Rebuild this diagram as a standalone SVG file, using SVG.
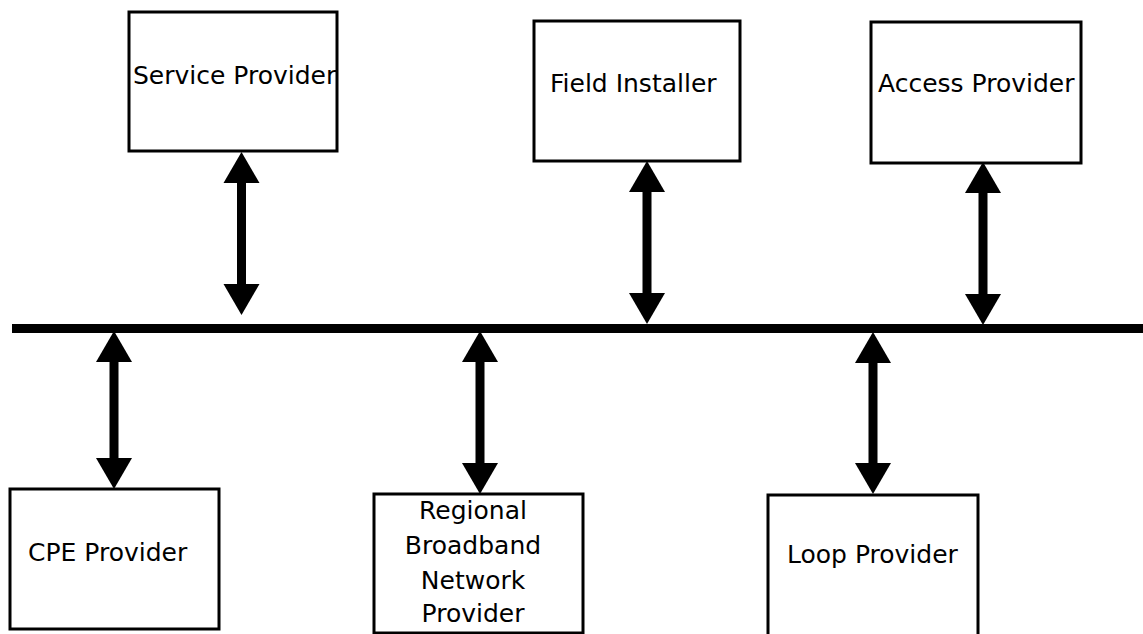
<svg xmlns="http://www.w3.org/2000/svg" width="1143" height="634" viewBox="0 0 1143 634">
<style>
.box{fill:#fff;stroke:#000;stroke-width:3}
.lbl{font-family:"DejaVu Sans","Verdana",sans-serif;font-size:25px;fill:#000}
.ctr{text-anchor:middle}
.conn{stroke:#000;stroke-width:9;fill:none;marker-start:url(#ah);marker-end:url(#ah)}
.bus{stroke:#000;stroke-width:9}
</style>
<defs>
<marker id="ah" markerUnits="userSpaceOnUse" markerWidth="31" markerHeight="37" refX="0" refY="18" orient="auto-start-reverse" viewBox="0 0 31 36" overflow="visible">
<path d="M0,0 L31,18 L0,36 Z" fill="#000"/>
</marker>
</defs>
<rect width="1143" height="634" fill="#fff"/>
<g id="service-provider">
<rect class="box" x="129" y="12" width="208" height="139"/>
<text class="lbl" x="133" y="84">Service Provider</text>
</g>
<g id="field-installer">
<rect class="box" x="534" y="21" width="206" height="140"/>
<text class="lbl" x="550" y="92">Field Installer</text>
</g>
<g id="access-provider">
<rect class="box" x="871" y="22" width="210" height="141"/>
<text class="lbl" x="878" y="92">Access Provider</text>
</g>
<g id="cpe-provider">
<rect class="box" x="10" y="489" width="209" height="140"/>
<text class="lbl" x="28" y="561">CPE Provider</text>
</g>
<g id="regional-broadband-network-provider">
<rect class="box" x="374" y="494" width="209" height="139"/>
<text class="lbl ctr" x="473" y="519">Regional</text>
<text class="lbl ctr" x="473" y="554">Broadband</text>
<text class="lbl ctr" x="473" y="589">Network</text>
<text class="lbl ctr" x="473" y="622">Provider</text>
</g>
<g id="loop-provider">
<rect class="box" x="768" y="495" width="210" height="145"/>
<text class="lbl" x="787" y="563">Loop Provider</text>
</g>
<g id="connectors">
<line class="bus" x1="12" y1="328.5" x2="1143" y2="328.5"/>
<line class="conn" x1="241.5" y1="183" x2="241.5" y2="284"/>
<line class="conn" x1="647" y1="192" x2="647" y2="293"/>
<line class="conn" x1="983" y1="193" x2="983" y2="294"/>
<line class="conn" x1="114" y1="362" x2="114" y2="458"/>
<line class="conn" x1="480" y1="362" x2="480" y2="463"/>
<line class="conn" x1="873" y1="363" x2="873" y2="463"/>
</g>
</svg>
